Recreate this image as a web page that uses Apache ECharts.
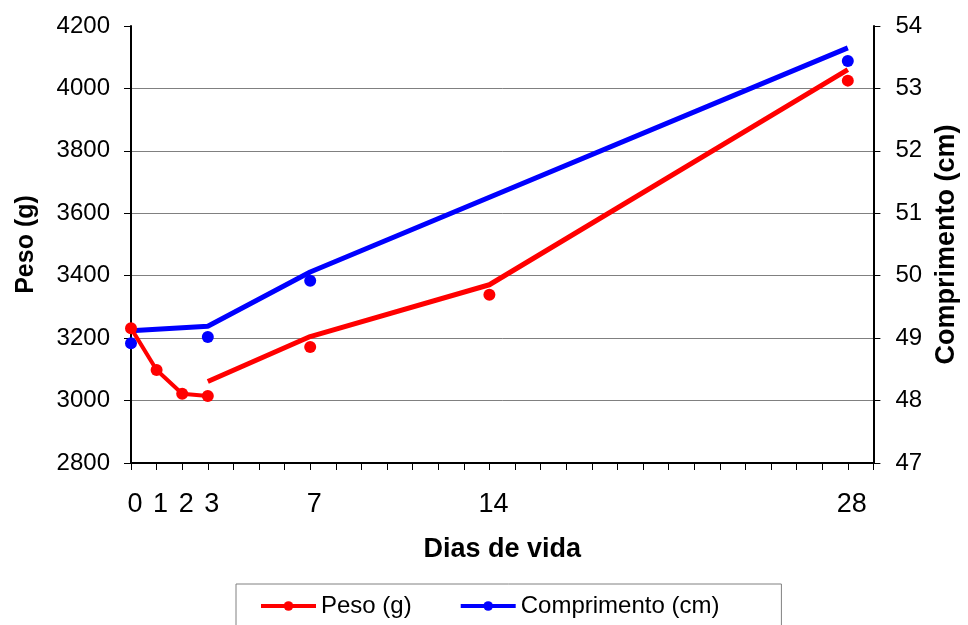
<!DOCTYPE html>
<html>
<head>
<meta charset="utf-8">
<script src="https://cdn.jsdelivr.net/npm/echarts@6/dist/echarts.min.js"></script>
<style>
  html, body { margin: 0; padding: 0; background: #ffffff; }
  #chart { width: 968px; height: 625px; }
</style>
</head>
<body>
<div id="chart"></div>
<script>
// Weighings (g) by day of life
const pesoDays = [0, 1, 2, 3, 7, 14, 28];
const peso = [3232, 3098, 3022, 3015, 3172, 3339, 4025];
const pesoJoinedCount = 4; // days 0-3 are joined by a line

// Length measurements (cm)
const compDays = [0, 3, 7, 28];
const comprimento = [48.92, 49.02, 49.92, 53.44];

// Growth curves drawn over the measurements
const pesoTrendDays = [3, 7, 14, 28];
const pesoTrend = [3061, 3205, 3371, 4060];
const compTrendDays = [0, 3, 7, 28];
const compTrend = [49.12, 49.19, 50.06, 53.65];

// Axis labels
const xTickLabels = [0, 1, 2, 3, 7, 14, 28];
const pesoRange = [2800, 4200, 200];
const compRange = [47, 54, 1];

const RED = '#ff0000';
const BLUE = '#0000ff';
const FONT = '"Liberation Sans", Arial, Helvetica, sans-serif';

const pairs = (xs, ys) => xs.map((x, i) => [x, ys[i]]);
const pesoPts = pairs(pesoDays, peso);

const chart = echarts.init(document.getElementById('chart'), null, { renderer: 'canvas' });
chart.setOption({
  animation: false,
  backgroundColor: '#ffffff',
  textStyle: { fontFamily: FONT, color: '#000' },
  grid: { left: 131, right: 92, top: 26, bottom: 162, containLabel: false },
  xAxis: {
    type: 'value',
    min: 0, max: 29, interval: 1,
    axisLine: { show: true, lineStyle: { color: '#000', width: 2 } },
    axisTick: { show: true, length: 7, lineStyle: { color: '#000', width: 1 } },
    axisLabel: {
      fontSize: 27, color: '#000', fontFamily: FONT, margin: 28,
      padding: [0, 0, 0, 8],
      formatter: v => (xTickLabels.indexOf(v) >= 0 ? String(v) : '')
    },
    splitLine: { show: false },
    name: 'Dias de vida',
    nameLocation: 'middle',
    nameGap: 73,
    nameTextStyle: { fontSize: 27, fontWeight: 'bold', color: '#000', fontFamily: FONT }
  },
  yAxis: [
    {
      type: 'value', position: 'left',
      min: pesoRange[0], max: pesoRange[1], interval: pesoRange[2],
      axisLine: { show: true, lineStyle: { color: '#000', width: 2 } },
      axisTick: { show: true, length: 7, lineStyle: { color: '#000', width: 1 } },
      axisLabel: { fontSize: 24, color: '#000', fontFamily: FONT, margin: 21, formatter: v => String(v) },
      splitLine: { show: true, showMaxLine: false, lineStyle: { color: '#808080', width: 1 } },
      name: 'Peso (g)',
      nameLocation: 'middle',
      nameRotate: 90,
      nameGap: 92,
      nameTextStyle: { fontSize: 25, fontWeight: 'bold', color: '#000', fontFamily: FONT }
    },
    {
      type: 'value', position: 'right',
      min: compRange[0], max: compRange[1], interval: compRange[2],
      axisLine: { show: true, lineStyle: { color: '#000', width: 2 } },
      axisTick: { show: true, length: 7, lineStyle: { color: '#000', width: 1 } },
      axisLabel: { fontSize: 24, color: '#000', fontFamily: FONT, margin: 22, formatter: v => String(v) },
      splitLine: { show: false },
      name: 'Comprimento (cm)',
      nameLocation: 'middle',
      nameRotate: 90,
      nameGap: 57,
      nameTextStyle: { fontSize: 27, fontWeight: 'bold', color: '#000', fontFamily: FONT }
    }
  ],
  legend: {
    data: ['Peso (g)', 'Comprimento (cm)'],
    left: 236, top: 584,
    orient: 'horizontal',
    itemWidth: 55, itemHeight: 12, itemGap: 47,
    padding: [10, 62, 30, 23],
    borderColor: '#808080', borderWidth: 1,
    lineStyle: { width: 4, opacity: 1 },
    textStyle: { fontSize: 24, color: '#000', fontFamily: FONT },
    selectedMode: false
  },
  series: [
    {
      name: 'Peso (g)', type: 'line', yAxisIndex: 0, z: 3,
      data: pesoPts.slice(0, pesoJoinedCount),
      symbol: 'circle', symbolSize: 12,
      lineStyle: { color: RED, width: 4 },
      itemStyle: { color: RED, opacity: 1 }
    },
    {
      name: 'Peso (g)', type: 'scatter', yAxisIndex: 0, z: 3,
      data: pesoPts.slice(pesoJoinedCount),
      symbol: 'circle', symbolSize: 12,
      itemStyle: { color: RED, opacity: 1 }
    },
    {
      name: 'Peso (g)', type: 'line', yAxisIndex: 0, z: 3,
      data: pairs(pesoTrendDays, pesoTrend),
      symbol: 'none',
      lineStyle: { color: RED, width: 5 },
      itemStyle: { color: RED }
    },
    {
      // measured lengths: markers only, the line itself is hidden
      name: 'Comprimento (cm)', type: 'line', yAxisIndex: 1, z: 2,
      data: pairs(compDays, comprimento),
      symbol: 'circle', symbolSize: 12,
      lineStyle: { color: BLUE, width: 4, opacity: 0 },
      itemStyle: { color: BLUE, opacity: 1 }
    },
    {
      name: 'Comprimento (cm)', type: 'line', yAxisIndex: 1, z: 1,
      data: pairs(compTrendDays, compTrend),
      symbol: 'none',
      lineStyle: { color: BLUE, width: 5 },
      itemStyle: { color: BLUE }
    }
  ]
});
</script>
</body>
</html>
